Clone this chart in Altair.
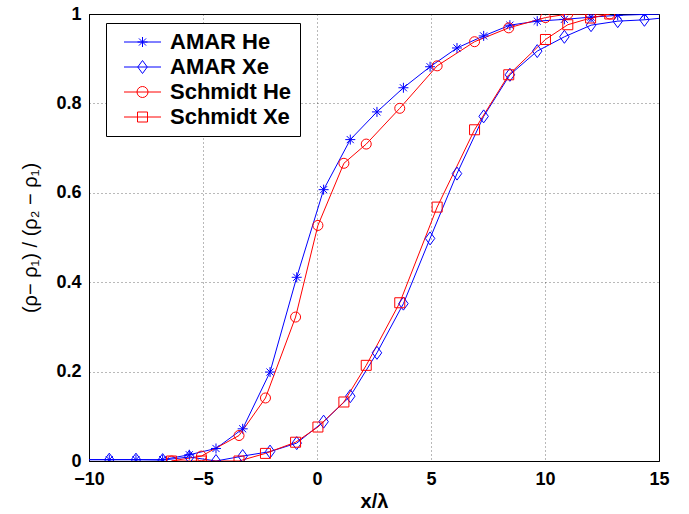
import altair as alt
import pandas as pd

# ---- data ----
amar_x = [-10.28, -9.11, -7.94, -6.77, -5.60, -4.43, -3.26, -2.06, -0.89, 0.29, 1.46,
          2.63, 3.79, 4.96, 6.14, 7.31, 8.46, 9.66, 10.85, 12.02, 13.19, 14.36, 15.53]
amar_he = [0.003, 0.003, 0.003, 0.003, 0.014, 0.028, 0.072, 0.199, 0.411, 0.607, 0.719,
           0.781, 0.835, 0.882, 0.924, 0.951, 0.975, 0.984, 0.988, 0.993, 0.997, 0.999, 1.0]
amar_xe = [0.003, 0.003, 0.003, 0.002, 0.009, 0.0, 0.011, 0.021, 0.040, 0.088, 0.145,
           0.242, 0.352, 0.498, 0.643, 0.771, 0.864, 0.917, 0.949, 0.975, 0.984, 0.987, 0.993]
schmidt_x = [-6.38, -5.07, -3.42, -2.26, -0.94, 0.04, 1.18, 2.16, 3.63, 5.27, 6.91,
             8.41, 10.02, 11.0, 12.0, 12.84]
schmidt_he = [0.0, 0.011, 0.057, 0.141, 0.322, 0.527, 0.666, 0.709, 0.789, 0.884, 0.938,
              0.969, 0.992, 1.0, 1.0, 1.0]
schmidt_xe = [0.0, 0.0, 0.0, 0.017, 0.042, 0.076, 0.132, 0.214, 0.354, 0.568, 0.741,
              0.864, 0.943, 0.976, 0.991, 1.0]

series_names = ["AMAR He", "AMAR Xe", "Schmidt He", "Schmidt Xe"]
series_colors = ["#0000ff", "#0000ff", "#ff0000", "#ff0000"]
x_ticks = [-10, -5, 0, 5, 10, 15]
y_ticks = [0, 0.2, 0.4, 0.6, 0.8, 1]

rows = []
for name, xs, ys in [("AMAR He", amar_x, amar_he), ("AMAR Xe", amar_x, amar_xe),
                     ("Schmidt He", schmidt_x, schmidt_he), ("Schmidt Xe", schmidt_x, schmidt_xe)]:
    for xv, yv in zip(xs, ys):
        rows.append({"x": xv, "y": yv, "series": name, "leg": name})
df = pd.DataFrame(rows)

# marker shapes (unit box -1..1)
star = "M-1,0L1,0M0,-1L0,1M-0.71,-0.71L0.71,0.71M-0.71,0.71L0.71,-0.71"
diamond = "M0,-1.3L0.95,0L0,1.3L-0.95,0Z"
marker_shapes = [star, diamond, "circle", "square"]

# legend symbols: line segment plus marker (centred at 3.5 units)
ln = "M-0.2,0L7.2,0"
leg_shapes = [
    ln + "M2.5,0L4.5,0M3.5,-1L3.5,1M2.79,-0.71L4.21,0.71M2.79,0.71L4.21,-0.71",
    ln + "M3.5,-1.3L4.45,0L3.5,1.3L2.55,0Z",
    ln + "M2.4,0A1.1,1.1 0 1,0 4.6,0A1.1,1.1 0 1,0 2.4,0Z",
    ln + "M2.5,-1L4.5,-1L4.5,1L2.5,1Z",
]

FONT = "Liberation Sans"

xenc = alt.X("x:Q", scale=alt.Scale(domain=[-10, 15], nice=False, zero=False),
             axis=alt.Axis(values=x_ticks, title="x/λ", grid=True, ticks=False,
                           labelPadding=9, titlePadding=3, labelFlush=False))
yenc = alt.Y("y:Q", scale=alt.Scale(domain=[0, 1], nice=False),
             axis=alt.Axis(values=y_ticks, title="(ρ− ρ₁) / (ρ₂ − ρ₁)", grid=True, ticks=False,
                           labelPadding=8, titlePadding=15, labelFlush=False,
                           labelExpr="format(datum.value, '~g')",
                           titleFontWeight="normal", titleFontSize=20))

color_scale = alt.Scale(domain=series_names, range=series_colors)

lines = alt.Chart(df).mark_line(clip=True, strokeWidth=1).encode(
    x=xenc, y=yenc,
    color=alt.Color("series:N", scale=color_scale, legend=None),
    detail="series:N",
)

points = alt.Chart(df).mark_point(clip=True, filled=False, size=100, strokeWidth=1, opacity=1).encode(
    x=xenc, y=yenc,
    color=alt.Color("series:N", scale=color_scale, legend=None),
    shape=alt.Shape("series:N", scale=alt.Scale(domain=series_names, range=marker_shapes), legend=None),
)

legend_def = alt.Legend(
    title=None, orient="none", legendX=17, legendY=9, direction="vertical",
    labelFont=FONT, labelFontSize=22, labelFontWeight="bold", labelColor="black",
    labelOffset=34, padding=8, rowPadding=3, strokeColor="black", fillColor="white",
    symbolSize=100, symbolStrokeWidth=1, labelLimit=300,
)

legend_layer = alt.Chart(df).mark_point(filled=False, size=100, strokeWidth=1, opacity=1).encode(
    x=xenc, y=yenc,
    color=alt.Color("leg:N", scale=alt.Scale(domain=series_names, range=series_colors), legend=legend_def),
    shape=alt.Shape("leg:N", scale=alt.Scale(domain=series_names, range=leg_shapes), legend=legend_def),
).transform_filter("false")

chart = alt.layer(lines, points, legend_layer).resolve_scale(
    color="independent", shape="independent"
).properties(
    width=570, height=447,
    padding={"left": 89, "top": 14, "right": 30, "bottom": 53},
    autosize=alt.AutoSizeParams(type="none"),
    background="white",
).configure_view(
    stroke="black", strokeWidth=1
).configure_axis(
    labelFont=FONT, labelFontSize=18, labelFontWeight="bold", labelColor="black",
    titleFont=FONT, titleFontSize=20, titleFontWeight="bold", titleColor="black",
    domainColor="black", domainWidth=1,
    gridColor="#000000", gridDash=[1, 3], gridOpacity=0.55, gridWidth=1,
)

chart.save("out.html", embed_options={"renderer": "svg", "actions": False})
